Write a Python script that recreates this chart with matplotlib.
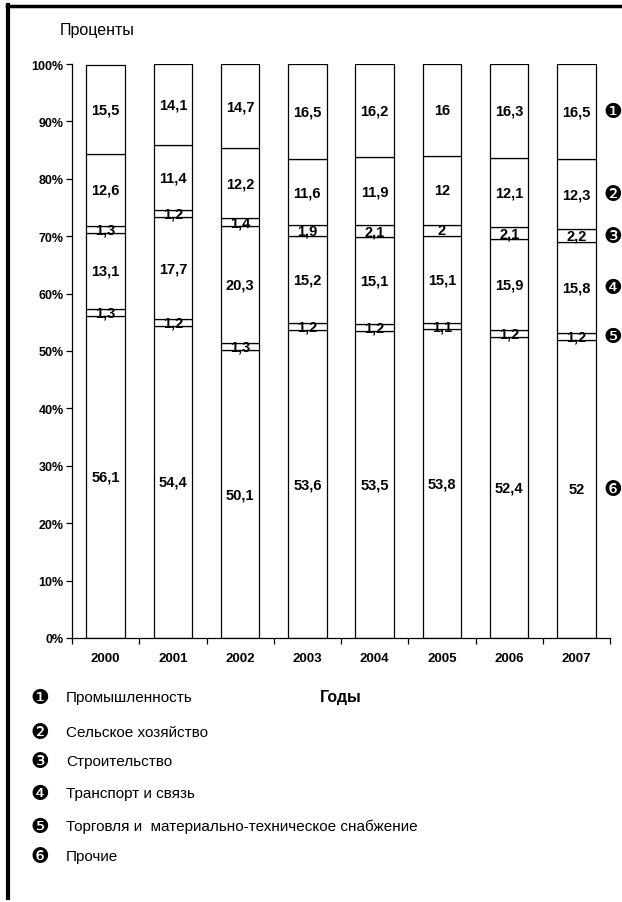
import matplotlib
matplotlib.use("Agg")
import matplotlib.pyplot as plt
from matplotlib import font_manager
from matplotlib.lines import Line2D
import numpy as np

years = ["2000", "2001", "2002", "2003", "2004", "2005", "2006", "2007"]
# bottom to top
prochie = [56.1, 54.4, 50.1, 53.6, 53.5, 53.8, 52.4, 52]
torgovlya = [1.3, 1.2, 1.3, 1.2, 1.2, 1.1, 1.2, 1.2]
transport = [13.1, 17.7, 20.3, 15.2, 15.1, 15.1, 15.9, 15.8]
stroitelstvo = [1.3, 1.2, 1.4, 1.9, 2.1, 2, 2.1, 2.2]
selskoe = [12.6, 11.4, 12.2, 11.6, 11.9, 12, 12.1, 12.3]
promyshl = [15.5, 14.1, 14.7, 16.5, 16.2, 16, 16.3, 16.5]

series = [prochie, torgovlya, transport, stroitelstvo, selskoe, promyshl]
series_markers = ["❻", "❺", "❹", "❸", "❷", "❶"]

legend_labels = ["Промышленность", "Сельское хозяйство", "Строительство",
                 "Транспорт и связь", "Торговля и  материально-техническое снабжение",
                 "Прочие"]
legend_markers = ["❶", "❷", "❸", "❹", "❺", "❻"]
yticks = [0, 10, 20, 30, 40, 50, 60, 70, 80, 90, 100]

names = {f.name for f in font_manager.fontManager.ttflist}
fam = "Liberation Sans Narrow" if "Liberation Sans Narrow" in names else "Liberation Sans"
plt.rcParams["font.family"] = [fam, "DejaVu Sans"]

fig = plt.figure(figsize=(6.22, 9.03), dpi=100)
ax = fig.add_axes([72/622, 1-639/903, (610-72)/622, (639-65)/903])

x = np.arange(len(years))
bottom = np.zeros(len(years))
width = 0.57
centers = []
for vals in series:
    v = np.array(vals, dtype=float)
    ax.bar(x, v, width, bottom=bottom, color="white", edgecolor="black", linewidth=0.9)
    c = bottom + v / 2
    centers.append(c)
    for xi, ci, vi in zip(x, c, v):
        ax.text(xi, ci, "{:g}".format(vi).replace(".", ","), ha="center", va="center",
                fontsize=10.5, fontweight="bold", color="black")
    bottom = bottom + v

# right-side series markers aligned to last bar's segments
for c, m in zip(centers, series_markers):
    ax.text(len(years) - 0.5 + 0.04, c[-1], m, ha="center", va="center",
            fontsize=15, family="DejaVu Sans", color="black", clip_on=False)

ax.set_xlim(-0.5, len(years) - 0.5)
ax.set_ylim(0, 100)
ax.set_yticks(yticks)
ax.set_yticklabels([f"{t}%" for t in yticks], fontsize=9, fontweight="bold")
ax.set_xticks(x)
ax.set_xticklabels(years, fontsize=9.5, fontweight="bold")
ax.tick_params(axis="x", which="major", length=0, pad=10)
ax.set_xticks(np.arange(-0.5, len(years)), minor=True)
ax.tick_params(axis="x", which="minor", length=4, width=0.9, direction="out")
ax.tick_params(axis="y", length=4, width=0.9, direction="out", pad=2)
for s in ["top", "right"]:
    ax.spines[s].set_visible(False)
for s in ["left", "bottom"]:
    ax.spines[s].set_linewidth(0.9)

fig.text(60/622, 1-31/903, "Проценты", fontsize=11.5, ha="left", va="center")
fig.text(341/622, 1-698/903, "Годы", fontsize=11.5, fontweight="bold", ha="center", va="center")

row_y = [698, 733, 762, 794, 827, 857]
for yy, m, lab in zip(row_y, legend_markers, legend_labels):
    fig.text(40/622, 1-yy/903, m, fontsize=15, family="DejaVu Sans", ha="center", va="center")
    fig.text(66/622, 1-yy/903, lab, fontsize=11, ha="left", va="center")

# frame lines (left and top)
fig.add_artist(Line2D([8/622, 8/622], [1-6/903, 1-899/903], color="black", linewidth=3,
                      transform=fig.transFigure))
fig.add_artist(Line2D([6.5/622, 1.0], [1-6.5/903, 1-6.5/903], color="black", linewidth=2.5,
                      transform=fig.transFigure))

fig.savefig("out.png", dpi=100, facecolor="white")
